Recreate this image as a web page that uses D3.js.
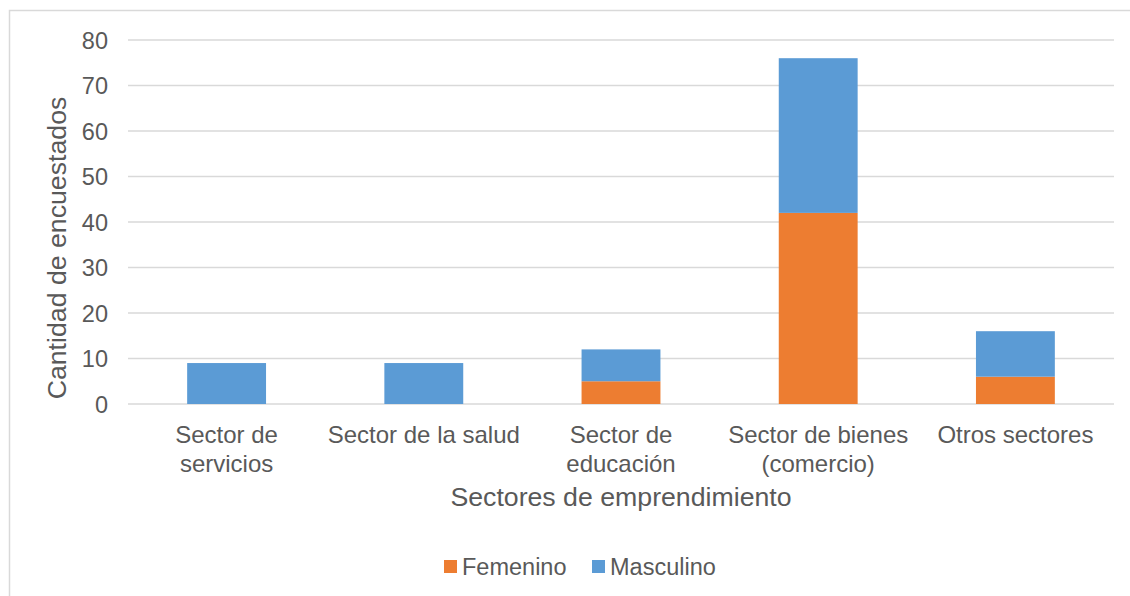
<!DOCTYPE html>
<html><head><meta charset="utf-8">
<script src="https://cdn.jsdelivr.net/npm/d3@7"></script>
<style>body{margin:0;background:#fff}svg{display:block;font-family:"Liberation Sans",Arial,sans-serif}</style>
</head><body><svg id="c" width="1130" height="596"></svg>
<script>
const categories = [["Sector de","servicios"],["Sector de la salud"],["Sector de","educación"],["Sector de bienes","(comercio)"],["Otros sectores"]];
const femenino = [0, 0, 5, 42, 6];
const masculino = [9, 9, 7, 34, 10];
const yTicks = [0,10,20,30,40,50,60,70,80];
const seriesNames = ["Femenino","Masculino"];
const colors = ["#ED7D31","#5B9BD5"];

const svg = d3.select("#c");
svg.append("rect").attr("x",9.5).attr("y",10.5).attr("width",1200).attr("height",700)
  .attr("fill","#fff").attr("stroke","#d9d9d9").attr("stroke-width",1.5);

const L=128, R=1114, T=40, B=404;
const idx = categories.map((d,i)=>i);
const x = d3.scaleBand().domain(idx).range([L,R]).paddingInner(0.6).paddingOuter(0.3);
const y = d3.scaleLinear().domain([0,80]).range([B,T]);
const txt="#595959";

// gridlines
svg.append("g").selectAll("line").data(yTicks).join("line")
  .attr("x1",L).attr("x2",R).attr("y1",d=>y(d)).attr("y2",d=>y(d))
  .attr("stroke","#d9d9d9").attr("stroke-width",1.5);

const yAxis = svg.append("g").attr("transform",`translate(${L},0)`)
  .call(d3.axisLeft(y).tickValues(yTicks).tickSize(0).tickPadding(20));
yAxis.select(".domain").remove();
yAxis.selectAll("text").attr("fill",txt).style("font-size","23.5px").attr("dy","0.35em");

const stackData = idx.map(i=>({i, Femenino:femenino[i], Masculino:masculino[i]}));
const stack = d3.stack().keys(seriesNames)(stackData);
svg.append("g").selectAll("g").data(stack).join("g").attr("fill",(d,k)=>colors[k])
  .selectAll("rect").data(d=>d).join("rect")
  .attr("x",d=>x(d.data.i)).attr("width",x.bandwidth())
  .attr("y",d=>y(d[1])).attr("height",d=>y(d[0])-y(d[1]));

// category labels
const cl = svg.append("g");
categories.forEach((lines,i)=>{
  const t = cl.append("text").attr("text-anchor","middle").attr("fill",txt).style("font-size","24px");
  lines.forEach((s,j)=>t.append("tspan").attr("x",x(i)+x.bandwidth()/2).attr("y",443+j*29).text(s));
});

svg.append("text").attr("x",(L+R)/2).attr("y",506).attr("text-anchor","middle")
  .attr("fill",txt).style("font-size","26.7px").text("Sectores de emprendimiento");
svg.append("text").attr("transform",`translate(66,248) rotate(-90)`).attr("text-anchor","middle")
  .attr("fill",txt).style("font-size","26.7px").text("Cantidad de encuestados");

// legend
const lg = svg.append("g");
const legX = [444, 592];
seriesNames.forEach((n,k)=>{
  lg.append("rect").attr("x",legX[k]).attr("y",560).attr("width",13).attr("height",13).attr("fill",colors[k]);
  lg.append("text").attr("x",legX[k]+18).attr("y",575).attr("fill",txt).style("font-size","23.5px").text(n);
});
</script></body></html>
